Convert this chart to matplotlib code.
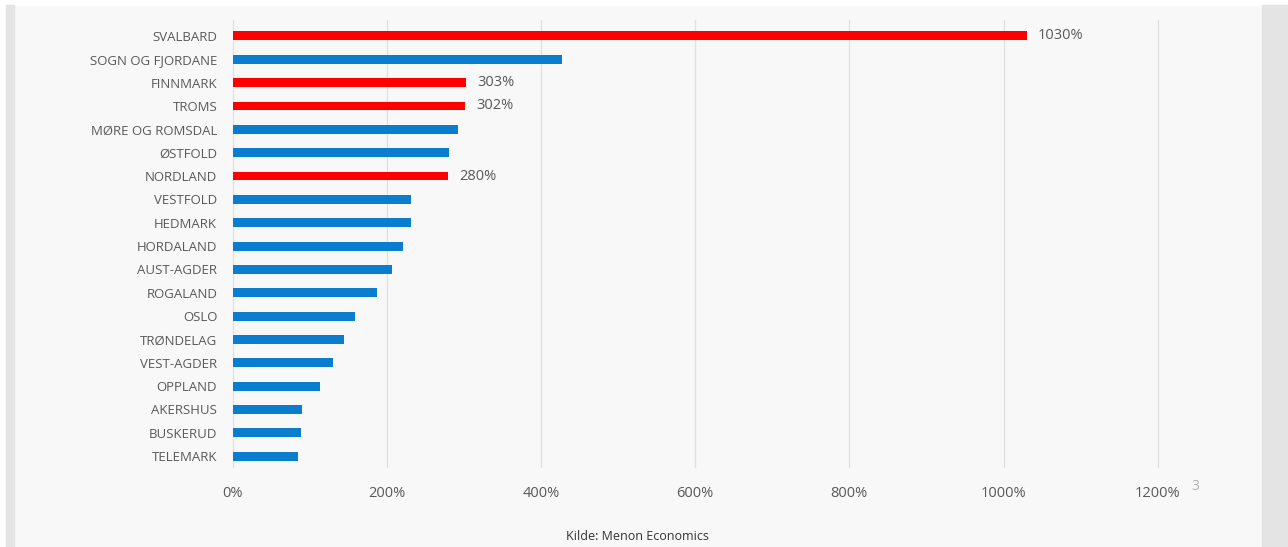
import matplotlib
matplotlib.use("Agg")
import matplotlib.pyplot as plt
from matplotlib.patches import Rectangle

regions = ["SVALBARD", "SOGN OG FJORDANE", "FINNMARK", "TROMS", "MØRE OG ROMSDAL",
           "ØSTFOLD", "NORDLAND", "VESTFOLD", "HEDMARK", "HORDALAND", "AUST-AGDER",
           "ROGALAND", "OSLO", "TRØNDELAG", "VEST-AGDER", "OPPLAND", "AKERSHUS",
           "BUSKERUD", "TELEMARK"]
values = [1030, 427, 303, 302, 292, 281, 280, 232, 232, 221, 207, 188, 159, 145,
          130, 114, 90, 89, 85]
highlight = ["SVALBARD", "FINNMARK", "TROMS", "NORDLAND"]
xticks = [0, 200, 400, 600, 800, 1000, 1200]

plt.rcParams['font.family'] = ['Open Sans', 'DejaVu Sans']
W, H = 1288, 547
fig = plt.figure(figsize=(W / 100, H / 100), dpi=100, facecolor="#f8f8f8")

# page frame
fig.patches.append(Rectangle((0, 1 - 5 / H), 1, 5 / H, transform=fig.transFigure,
                             color="white", zorder=0))
fig.patches.append(Rectangle((0, 0), 6 / W, 1, transform=fig.transFigure,
                             color="white", zorder=0))
fig.patches.append(Rectangle((6 / W, 0), 8 / W, 1 - 5 / H, transform=fig.transFigure,
                             color="#e4e4e4", zorder=0))
fig.patches.append(Rectangle((1262 / W, 0), 26 / W, 1 - 5 / H, transform=fig.transFigure,
                             color="#e4e4e4", zorder=0))

left, right, top, bottom = 232.5, 1157.7, 20, 467
ax = fig.add_axes([left / W, (H - bottom) / H, (right - left) / W, (bottom - top) / H])
ax.set_facecolor("none")

pos = list(range(len(regions)))
colors = ["#ff0000" if r in highlight else "#0a7dcf" for r in regions]
ax.barh(pos, values, height=0.385, color=colors, zorder=3)

for p, r, v in zip(pos, regions, values):
    if r in highlight:
        ax.annotate(f"{v}%", (v, p), xytext=(8, 0), textcoords="offset points",
                    va="center", ha="left", fontsize=10.5, color="#595959")

ax.set_xlim(0, 1200)
ax.set_ylim(18.47, -0.685)
ax.set_xticks(xticks)
ax.set_xticklabels([f"{t}%" for t in xticks], fontsize=10.5, color="#595959")
ax.set_yticks(pos)
ax.set_yticklabels(regions, fontsize=9.5, color="#595959")
ax.tick_params(axis="x", length=0, pad=14)
ax.tick_params(axis="y", length=0, pad=11)
ax.grid(axis="x", color="#e0e0e0", linewidth=0.9, zorder=0)
for gl in ax.get_xgridlines():
    gl.set_clip_on(False)
for s in ax.spines.values():
    s.set_visible(False)

fig.text(1195 / W, 1 - 486 / H, "3", fontsize=10, color="#b0b0b0", ha="center", va="center")
fig.text(637 / W, 1 - 537 / H, "Kilde: Menon Economics", fontsize=9, color="#333333",
         ha="center", va="center")

fig.savefig("out.png", dpi=100, facecolor=fig.get_facecolor())
